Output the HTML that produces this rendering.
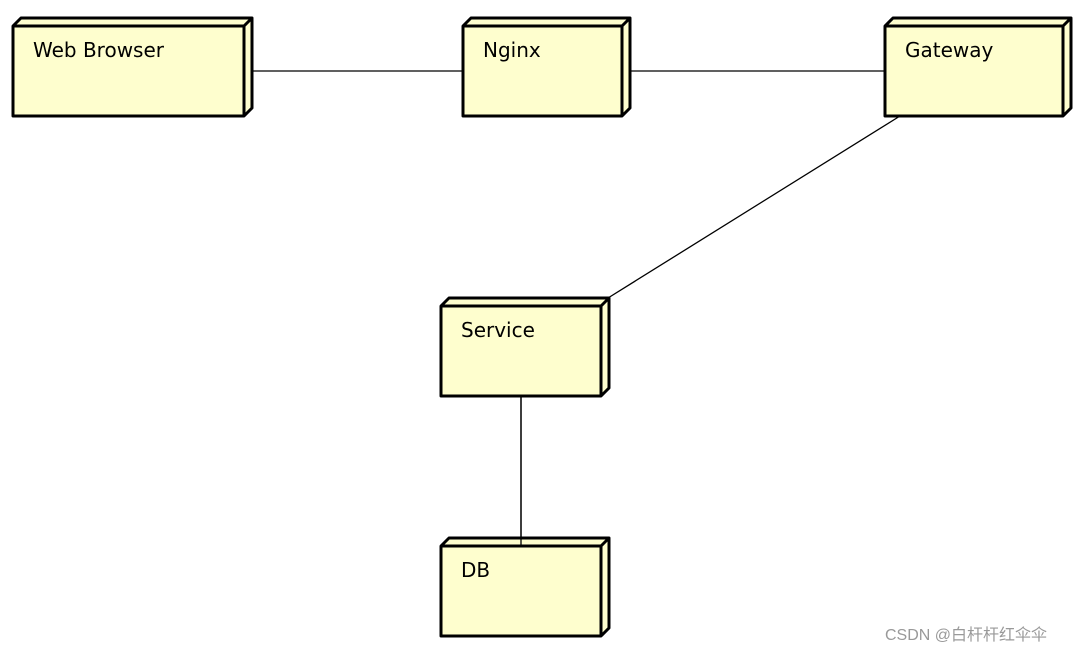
<!DOCTYPE html>
<html><head><meta charset="utf-8"><style>
html,body{margin:0;padding:0;background:#fff;}
</style></head><body>
<svg width="1092" height="652" xmlns="http://www.w3.org/2000/svg" style="display:block">
<g stroke="#000" stroke-width="1.3" fill="none">
<line x1="244" y1="71" x2="463" y2="71"/>
<line x1="622" y1="71" x2="885" y2="71"/>
<line x1="900" y1="116" x2="608" y2="298"/>
<line x1="521" y1="396" x2="521" y2="546"/>
</g>
<g stroke="#000" stroke-width="3" fill="#FEFECE" stroke-linejoin="round">
<!-- x,y,w,h -->
<path d="M13,26 L21,18 L252,18 L252,108 L244,116 L13,116 Z"/><path d="M13,26 L244,26 L252,18 M244,26 L244,116" fill="none"/>
<path d="M463,26 L471,18 L630,18 L630,108 L622,116 L463,116 Z"/><path d="M463,26 L622,26 L630,18 M622,26 L622,116" fill="none"/>
<path d="M885,26 L893,18 L1071,18 L1071,108 L1063,116 L885,116 Z"/><path d="M885,26 L1063,26 L1071,18 M1063,26 L1063,116" fill="none"/>
<path d="M441,306 L449,298 L609,298 L609,388 L601,396 L441,396 Z"/><path d="M441,306 L601,306 L609,298 M601,306 L601,396" fill="none"/>
<path d="M441,546 L449,538 L609,538 L609,628 L601,636 L441,636 Z"/><path d="M441,546 L601,546 L609,538 M601,546 L601,636" fill="none"/>
</g>
<line x1="521" y1="396" x2="521" y2="546" stroke="#000" stroke-width="1.3"/>
<g font-family="'DejaVu Sans','Liberation Sans',sans-serif" font-size="20" fill="#000">
<text x="33" y="57">Web Browser</text>
<text x="483" y="57">Nginx</text>
<text x="905" y="57">Gateway</text>
<text x="461" y="337">Service</text>
<text x="461" y="577">DB</text>
</g>
<text x="885" y="640" font-family="'Liberation Sans','Noto Sans CJK SC',sans-serif" font-size="16" fill="#999">CSDN @白杆杆红伞伞</text>
</svg>
</body></html>
